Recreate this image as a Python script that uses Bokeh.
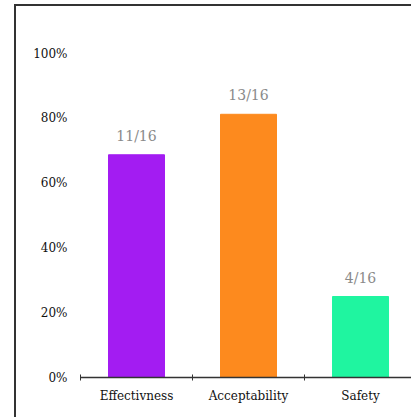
from bokeh.plotting import figure
from bokeh.models import Range1d, FixedTicker, NumeralTickFormatter, ColumnDataSource
from bokeh.core.properties import value
from bokeh.embed import file_html
from bokeh.resources import INLINE

categories = ["Effectivness", "Acceptability", "Safety"]
counts = [11, 13, 4]
totals = [16, 16, 16]
colors = ["#a31cf2", "#fd8a1e", "#1ff5a0"]
y_ticks = [0, 0.2, 0.4, 0.6, 0.8, 1.0]

shares = [c / t for c, t in zip(counts, totals)]
labels = [f"{c}/{t}" for c, t in zip(counts, totals)]
xs = [i + 0.5 for i in range(len(categories))]

src = ColumnDataSource(dict(x=xs, top=shares, color=colors, label=labels))

fam = "DejaVu Serif"

# canvas starts at page x=16, y=6 (after margin + border)
p = figure(width=397, height=413, output_backend="svg", toolbar_location=None,
           x_range=Range1d(0, 2.973), y_range=Range1d(0, 1.102),
           min_border_left=64, min_border_right=0, min_border_top=14, min_border_bottom=42,
           styles={"margin-left": "14px", "margin-top": "4px",
                   "border-left": "2px solid #333333", "border-top": "2px solid #333333"})
p.outline_line_color = None
p.xgrid.visible = False
p.ygrid.visible = False

p.vbar(x="x", top="top", bottom=0, width=0.5, color="color", source=src)
p.text(x="x", y="top", text="label", source=src, text_align="center", text_baseline="middle",
       y_offset=-19, text_color="#8a8a8a", text_font=value(fam), text_font_size="14px")

xa = p.xaxis[0]
xa.ticker = FixedTicker(ticks=xs, minor_ticks=[0, 1, 2, 3])
xa.major_label_overrides = {x: c for x, c in zip(xs, categories)}
xa.major_tick_in = 0
xa.major_tick_out = 0
xa.minor_tick_in = 3
xa.minor_tick_out = 3
xa.minor_tick_line_color = "#333333"
xa.axis_line_color = "#333333"
xa.axis_line_width = 1.5
xa.major_label_text_font = fam
xa.major_label_text_font_size = "12px"
xa.major_label_text_color = "#111111"
xa.major_label_standoff = 8

ya = p.yaxis[0]
ya.ticker = FixedTicker(ticks=y_ticks)
ya.formatter = NumeralTickFormatter(format="0%")
ya.axis_line_color = None
ya.major_tick_line_color = None
ya.minor_tick_line_color = None
ya.major_tick_out = 0
ya.major_label_standoff = 13
ya.major_label_text_font = fam
ya.major_label_text_font_size = "12px"
ya.major_label_text_color = "#111111"

open("out.html", "w").write(file_html(p, INLINE))
